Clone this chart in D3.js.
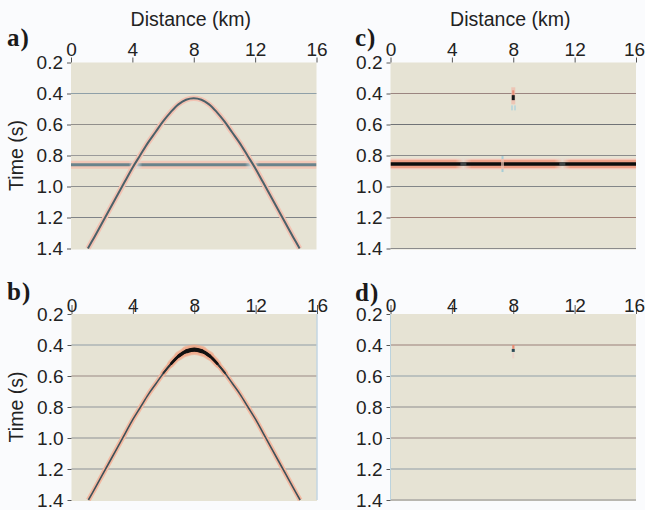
<!DOCTYPE html>
<html>
<head>
<meta charset="utf-8">
<script src="https://cdn.jsdelivr.net/npm/d3@7"></script>
<style>
  html, body { margin: 0; padding: 0; background: #fafbfd; }
  svg { display: block; }
  .tick text { font-family: "Liberation Sans", Arial, Helvetica, sans-serif; font-size: 19px; fill: #222; }
  .tick line { stroke: #555; }
</style>
</head>
<body>
<script>
// ---------- data ----------
const distanceTicks = [0, 4, 8, 12, 16];
const timeTicks = [0.2, 0.4, 0.6, 0.8, 1.0, 1.2, 1.4];
const panelLabels = ["a)", "b)", "c)", "d)"];

// diffraction hyperbola (panels a, b): distance in km, time in s
const hypKm   = [1.1, 1.5, 2, 2.5, 3, 3.5, 4, 4.5, 5, 5.5, 6, 6.5, 7, 7.5, 8,
                 8.5, 9, 9.5, 10, 10.5, 11, 11.5, 12, 12.5, 13, 13.5, 14, 14.5, 14.9];
const hypTime = [1.40, 1.33, 1.24, 1.15, 1.06, 0.97, 0.88, 0.80, 0.72, 0.65, 0.58, 0.52, 0.47, 0.44, 0.43,
                 0.44, 0.47, 0.52, 0.58, 0.65, 0.72, 0.80, 0.88, 0.97, 1.06, 1.15, 1.24, 1.33, 1.40];
// relative amplitude along the hyperbola in panel b
const hypAmpB = [1, 1, 1, 1, 1, 1, 1, 1, 1, 1, 1.3, 1.8, 2.6, 3.4, 3.8,
                 3.4, 2.6, 1.8, 1.3, 1, 1, 1, 1, 1, 1, 1, 1, 1, 1];

// flat reflector
const reflectorTimeA = 0.86;
const reflectorTimeC = 0.855;
const reflectorGapsA = [4.2, 11.8];        // km, where the event interferes with the hyperbola
const reflectorGapsC = [4.75, 11.2];
const reflectorBlipC = 7.3;

// scatter point residuals (panels c, d)
const pointKm = 8;
const pointTimeC = [0.36, 0.47, 0.43];   // streak start, streak end, peak
const pointTimeD = [0.40, 0.425, 0.435];

// ---------- layout ----------
const W = 645, H = 510;
const svg = d3.select("body").append("svg").attr("width", W).attr("height", H);

const panels = [
  {id: "a", x0: 71,    x1: 316.5, y0: 62.5, y1: 248.5, topTick: 5, topPad: 2, label: panelLabels[0], lx: 7,   ly: 46, title: true, ylab: true, lastShift: 0,
   grid: ["#8fa0a8", "#918f8b", "#9a9a9a", "#8f9090", "#7f8387"], bottomLine: false},
  {id: "b", x0: 71.5,  x1: 317,   y0: 314,  y1: 500,   topTick: 9, topPad: -7, label: panelLabels[1], lx: 7,   ly: 300, title: false, ylab: true, lastShift: 0,
   grid: ["#8f9ea6", "#9a8a84", "#8f969a", "#8e9294", "#8b9296"], bottomLine: false},
  {id: "c", x0: 390.5, x1: 636,   y0: 62.5, y1: 248.5, topTick: 5, topPad: 2, label: panelLabels[2], lx: 355, ly: 46, title: true, ylab: false, lastShift: -2,
   grid: ["#9b8580", "#707376", "#8b8b8b", "#828688", "#a07e74"], bottomLine: true},
  {id: "d", x0: 390.5, x1: 636,   y0: 314,  y1: 500,   topTick: 9, topPad: -7, label: panelLabels[3], lx: 355, ly: 301, title: false, ylab: false, lastShift: -2,
   grid: ["#9a8078", "#8f9fa8", "#8d8d8d", "#9a8a86", "#8f9ea6"], bottomLine: true}
];

const fontSans = "'Liberation Sans', Arial, Helvetica, sans-serif";

panels.forEach(p => {
  const x = d3.scaleLinear().domain([0, 16]).range([p.x0, p.x1]);
  const y = d3.scaleLinear().domain([0.2, 1.4]).range([p.y0, p.y1]);
  p.x = x; p.y = y;
  const g = svg.append("g");

  // background
  g.append("rect")
    .attr("x", x(0)).attr("y", y(0.2))
    .attr("width", x(16) - x(0)).attr("height", y(1.4) - y(0.2) + 1)
    .attr("fill", "#e6e3d4");

  // grid lines
  const gridT = timeTicks.slice(1, p.bottomLine ? 7 : 6);
  g.selectAll("line.grid").data(gridT).join("line")
    .attr("class", "grid")
    .attr("x1", x(0)).attr("x2", x(16))
    .attr("y1", d => y(d)).attr("y2", d => y(d))
    .attr("stroke", (d, i) => p.grid[i] || "#8b8b8b")
    .attr("stroke-width", 1.2);

  const clipId = "clip-" + p.id;
  svg.append("clipPath").attr("id", clipId).append("rect")
    .attr("x", x(0)).attr("y", y(0.2)).attr("width", x(16) - x(0)).attr("height", y(1.4) - y(0.2) + 1);
  p.content = g.append("g").attr("clip-path", `url(#${clipId})`);

  // axes
  const xa = g.append("g").attr("transform", `translate(0,${y(0.2)})`)
    .call(d3.axisTop(x).tickValues(distanceTicks).tickFormat(d3.format("d"))
      .tickSize(p.topTick).tickPadding(p.topPad));
  xa.select(".domain").remove();
  xa.selectAll(".tick text").attr("dy", "0em")
    .attr("dx", d => d === 16 ? p.lastShift : 0);

  const ya = g.append("g").attr("transform", `translate(${x(0)},0)`)
    .call(d3.axisLeft(y).tickValues(timeTicks).tickFormat(d3.format(".1f"))
      .tickSize(4).tickPadding(4));
  ya.select(".domain").remove();

  // panel label
  svg.append("text").attr("x", p.lx).attr("y", p.ly)
    .attr("font-family", "'Liberation Serif', 'Times New Roman', serif")
    .attr("font-weight", "bold").attr("font-size", 25)
    .attr("letter-spacing", 1)
    .attr("fill", "#1a1a1a").text(p.label);

  if (p.title) {
    svg.append("text").attr("x", (p.x0 + p.x1) / 2 - 3).attr("y", 26)
      .attr("text-anchor", "middle").attr("font-family", fontSans)
      .attr("font-size", 19.5).attr("fill", "#222").text("Distance (km)");
  }
  if (p.ylab) {
    svg.append("text")
      .attr("transform", `translate(23,${(p.y0 + p.y1) / 2}) rotate(-90)`)
      .attr("text-anchor", "middle").attr("font-family", fontSans)
      .attr("font-size", 19.5).attr("fill", "#222").text("Time (s)");
  }
});

const P = Object.fromEntries(panels.map(p => [p.id, p]));
const hypPts = hypKm.map((k, i) => ({k, t: hypTime[i], a: hypAmpB[i]}));

function hypLine(p) {
  return d3.line().x(d => p.x(d.k)).y(d => p.y(d.t)).curve(d3.curveCatmullRom.alpha(0.5));
}

// ---------- panel a ----------
{
  const p = P.a, c = p.content, line = hypLine(p);
  const yr = p.y(reflectorTimeA);
  c.append("line").attr("x1", p.x(0)).attr("x2", p.x(16)).attr("y1", yr).attr("y2", yr)
    .attr("stroke", "#f3c3b2").attr("stroke-width", 8).attr("opacity", 0.85);
  c.append("line").attr("x1", p.x(0)).attr("x2", p.x(16)).attr("y1", yr).attr("y2", yr)
    .attr("stroke", "#6a838b").attr("stroke-width", 3);
  const grad = svg.append("defs").append("linearGradient").attr("id", "gapGrad");
  grad.append("stop").attr("offset", "0%").attr("stop-color", "#d6e2e2").attr("stop-opacity", 0);
  grad.append("stop").attr("offset", "50%").attr("stop-color", "#d6e2e2").attr("stop-opacity", 1);
  grad.append("stop").attr("offset", "100%").attr("stop-color", "#d6e2e2").attr("stop-opacity", 0);
  c.selectAll("rect.gap").data(reflectorGapsA).join("rect")
    .attr("x", d => p.x(d) - 7).attr("y", yr - 4).attr("width", 14).attr("height", 8)
    .attr("fill", "url(#gapGrad)");
  c.append("path").datum(hypPts).attr("d", line).attr("fill", "none")
    .attr("stroke", "#f2c2b2").attr("stroke-width", 5.5);
  c.append("path").datum(hypPts).attr("d", line).attr("fill", "none")
    .attr("stroke", "#4b6169").attr("stroke-width", 2);
}

// ---------- panel b ----------
{
  const p = P.b, c = p.content, line = hypLine(p);
  c.append("path").datum(hypPts).attr("d", line).attr("fill", "none")
    .attr("stroke", "#f2b8a0").attr("stroke-width", 5);
  [1.3, 1.8, 2.6, 3.4].forEach((lvl, i) => {
    const sub = hypPts.filter(d => d.a >= lvl);
    c.append("path").datum(sub).attr("d", line).attr("fill", "none")
      .attr("stroke", "#f1a888").attr("stroke-width", 6 + i * 1.6).attr("stroke-linecap", "round")
      .attr("opacity", 0.55);
  });
  c.append("path").datum(hypPts).attr("d", line).attr("fill", "none")
    .attr("stroke", "#3e5058").attr("stroke-width", 1.6);
  [1.3, 1.8, 2.6, 3.4].forEach((lvl, i) => {
    const sub = hypPts.filter(d => d.a >= lvl);
    c.append("path").datum(sub).attr("d", line).attr("fill", "none")
      .attr("stroke", i < 1 ? "#2a3438" : "#111").attr("stroke-width", 2 + i * 0.7).attr("stroke-linecap", "round");
  });
}

// ---------- panel c ----------
{
  const p = P.c, c = p.content;
  const yr = p.y(reflectorTimeC);
  c.append("line").attr("x1", p.x(0)).attr("x2", p.x(16)).attr("y1", yr).attr("y2", yr)
    .attr("stroke", "#f4d0c4").attr("stroke-width", 11);
  c.append("line").attr("x1", p.x(0)).attr("x2", p.x(16)).attr("y1", yr).attr("y2", yr)
    .attr("stroke", "#ee9f86").attr("stroke-width", 8.5);
  const grad = svg.select("defs").append("linearGradient").attr("id", "gapGradC");
  grad.append("stop").attr("offset", "0%").attr("stop-color", "#e6ddd2").attr("stop-opacity", 0);
  grad.append("stop").attr("offset", "50%").attr("stop-color", "#e6ddd2").attr("stop-opacity", 0.9);
  grad.append("stop").attr("offset", "100%").attr("stop-color", "#e6ddd2").attr("stop-opacity", 0);
  c.selectAll("rect.gap").data(reflectorGapsC).join("rect")
    .attr("x", d => p.x(d) - 8).attr("y", yr - 6).attr("width", 16).attr("height", 12)
    .attr("fill", "url(#gapGradC)");
  c.append("line").attr("x1", p.x(0)).attr("x2", p.x(16)).attr("y1", yr).attr("y2", yr)
    .attr("stroke", "#0d0d0d").attr("stroke-width", 3.5);
  c.selectAll("rect.gapc").data(reflectorGapsC).join("rect")
    .attr("x", d => p.x(d) - 3).attr("y", yr - 1.5).attr("width", 6).attr("height", 3)
    .attr("fill", "#6d7a7e").attr("opacity", 0.5);
  // blip
  const bx = p.x(reflectorBlipC);
  c.append("rect").attr("x", bx - 1).attr("y", yr - 8).attr("width", 2).attr("height", 3).attr("fill", "#a6cdd6");
  c.append("rect").attr("x", bx - 1).attr("y", yr + 5).attr("width", 2).attr("height", 3).attr("fill", "#a6cdd6");
  c.append("rect").attr("x", bx - 1.5).attr("y", yr - 5).attr("width", 3).attr("height", 10).attr("fill", "#e9c0b2").attr("opacity", 0.7);

  // scatter point residual
  const px = p.x(pointKm);
  c.append("rect").attr("x", px - 2).attr("y", p.y(pointTimeC[0])).attr("width", 4)
    .attr("height", p.y(pointTimeC[1]) - p.y(pointTimeC[0])).attr("fill", "#f0b8a8").attr("opacity", 0.7);
  c.append("rect").attr("x", px - 1).attr("y", p.y(pointTimeC[0]) + 3).attr("width", 2)
    .attr("height", p.y(pointTimeC[2]) - p.y(pointTimeC[0]) - 4).attr("fill", "#e8907a");
  c.append("rect").attr("x", px - 1.5).attr("y", p.y(pointTimeC[2]) - 3).attr("width", 3).attr("height", 5).attr("fill", "#15191b");
  c.append("rect").attr("x", px - 2).attr("y", p.y(pointTimeC[1]) + 1).attr("width", 1.5).attr("height", 5).attr("fill", "#b4d4da");
  c.append("rect").attr("x", px + 1).attr("y", p.y(pointTimeC[1]) + 1).attr("width", 1.5).attr("height", 5).attr("fill", "#b4d4da");
}

// ---------- panel d ----------
{
  const p = P.d, c = p.content;
  const px = p.x(pointKm);
  c.append("rect").attr("x", px - 1).attr("y", p.y(pointTimeD[0])).attr("width", 2.2)
    .attr("height", p.y(pointTimeD[1]) - p.y(pointTimeD[0])).attr("fill", "#e98a72");
  c.append("rect").attr("x", px - 1.5).attr("y", p.y(pointTimeD[2]) - 1.5).attr("width", 3).attr("height", 3).attr("fill", "#2d4a55");
  c.append("rect").attr("x", px - 1).attr("y", p.y(pointTimeD[2]) + 2).attr("width", 2).attr("height", 6).attr("fill", "#ecd2c8");
  svg.append("line").attr("x1", p.x(0)).attr("x2", p.x(0)).attr("y1", p.y(0.2)).attr("y2", p.y(1.4))
    .attr("stroke", "#bcd3dd").attr("stroke-width", 1);
}
{
  const p = P.b;
  svg.append("line").attr("x1", p.x(16)).attr("x2", p.x(16)).attr("y1", p.y(0.2)).attr("y2", p.y(1.4))
    .attr("stroke", "#c3d6e2").attr("stroke-width", 1.5);
}
</script>
</body>
</html>
